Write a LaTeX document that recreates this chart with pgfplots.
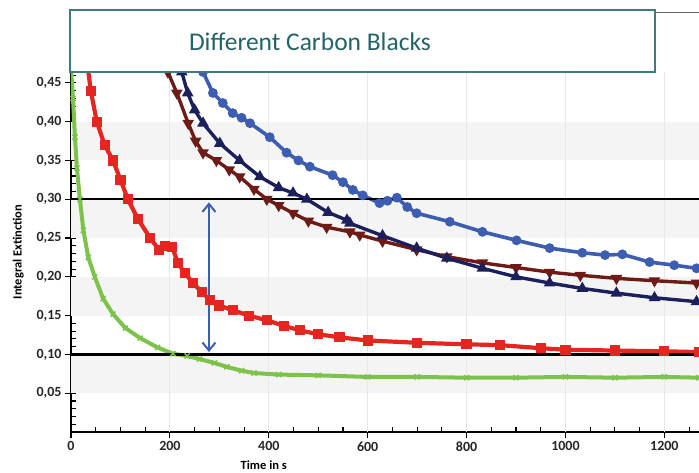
\documentclass[border=0pt]{standalone}
\usepackage{fontspec}
\setmainfont{Carlito}
\usepackage{pgfplots}
\pgfplotsset{compat=1.18}
\usetikzlibrary{arrows.meta}

\definecolor{cgreen}{RGB}{125,195,75}
\definecolor{cred}{RGB}{229,38,32}
\definecolor{cmaroon}{RGB}{110,26,22}
\definecolor{cnavy}{RGB}{27,31,92}
\definecolor{cblue}{RGB}{61,94,176}
\definecolor{bandgray}{RGB}{244,244,244}
\definecolor{titleteal}{RGB}{63,123,128}
\definecolor{titletext}{RGB}{35,100,106}

\begin{document}
\begin{tikzpicture}
\begin{axis}[
  scale only axis, width=628pt, height=360pt,
  xmin=0, xmax=1270, ymin=0, ymax=0.464,
  axis x line*=bottom, axis y line*=left,
  axis line style={black, line width=1.3pt},
  xtick={0,200,...,1200},
  ytick={0.05,0.10,0.15,0.20,0.25,0.30,0.35,0.40,0.45},
  minor xtick={50,100,...,1250},
  minor ytick={0.01,0.02,...,0.46},
  tick align=outside, major tick length=6pt, minor tick length=5pt,
  every tick/.append style={black, line width=1.1pt},
  minor x tick style={yshift=5pt},
  minor y tick style={xshift=5pt},
  tick label style={font=\bfseries\fontsize{14}{16}\selectfont, text=black!85},
  /pgf/number format/assume math mode=true,
  xticklabel style={/pgf/number format/.cd, fixed, precision=0, 1000 sep={}},
  yticklabel style={/pgf/number format/.cd, fixed, fixed zerofill, precision=2, use comma},
  xlabel={Time in s},
  ylabel={Integral Extinction},
  x label style={at={(axis description cs:0.307,-0.092)}, anchor=center, font=\bfseries\fontsize{12.5}{14}\selectfont},
  y label style={at={(axis description cs:-0.084,0.5)}, anchor=center, font=\bfseries\fontsize{12.5}{14}\selectfont},
  clip=true,
]
% background bands
\fill[bandgray] (0,0.05) rectangle (1270,0.10);
\fill[bandgray] (0,0.15) rectangle (1270,0.20);
\fill[bandgray] (0,0.25) rectangle (1270,0.30);
\fill[bandgray] (0,0.35) rectangle (1270,0.40);
\pgfplotsinvokeforeach{200,400,600,800,1000,1200}{
  \draw[black!9, line width=0.8pt] (#1,0) -- (#1,0.464);
}

% green
\addplot[cgreen, line width=4pt, mark=x, mark size=3.6pt, mark options={line width=1.5pt}] coordinates {
(0,0.47) (4,0.43) (8,0.38) (12,0.34) (18,0.30) (25,0.26) (35,0.225) (48,0.20)
(65,0.172) (85,0.152) (110,0.134) (140,0.121) (175,0.109) (206,0.101) (235,0.098)
(260,0.094) (290,0.089) (315,0.084) (345,0.079) (370,0.076) (420,0.074) (500,0.073)
(600,0.071) (700,0.071) (800,0.070) (900,0.070) (1000,0.071) (1100,0.070) (1200,0.071) (1270,0.070)
};
% red
\addplot[cred, line width=4.2pt, mark=square*, mark size=3pt] coordinates {
(34,0.47) (40,0.44) (52,0.40) (68,0.37) (85,0.35) (100,0.325) (115,0.30) (135,0.275)
(160,0.25) (178,0.235) (190,0.24) (205,0.238) (216,0.218) (230,0.205) (247,0.192)
(265,0.18) (281,0.17) (300,0.163) (327,0.157) (360,0.15) (396,0.144) (430,0.137)
(463,0.131) (500,0.126) (543,0.122) (600,0.118) (700,0.115) (800,0.113) (867,0.112)
(950,0.108) (1000,0.106) (1100,0.105) (1200,0.104) (1270,0.103)
};
% maroon
\addplot[cmaroon, line width=3.4pt, mark=triangle*, mark size=3.4pt, mark options={rotate=180}] coordinates {
(190,0.48) (196,0.464) (214,0.437) (237,0.398) (252,0.375) (267,0.36) (294,0.35)
(320,0.338) (341,0.329) (370,0.313) (396,0.30) (420,0.292) (449,0.282) (480,0.272)
(517,0.264) (564,0.258) (584,0.254) (630,0.246) (699,0.235) (760,0.226) (832,0.218)
(900,0.212) (968,0.206) (1030,0.202) (1103,0.198) (1180,0.195) (1265,0.192)
};
% navy
\addplot[cnavy, line width=3.4pt, mark=triangle*, mark size=3.4pt] coordinates {
(218,0.48) (224,0.464) (236,0.437) (250,0.415) (267,0.398) (301,0.372) (341,0.35)
(382,0.329) (420,0.315) (449,0.308) (477,0.30) (520,0.283) (558,0.273) (564,0.269)
(630,0.253) (699,0.237) (760,0.224) (832,0.211) (900,0.200) (968,0.192) (1034,0.185)
(1103,0.179) (1180,0.173) (1265,0.168)
};
% blue
\addplot[cblue, line width=3.6pt, mark=*, mark size=3pt] coordinates {
(262,0.48) (267,0.464) (287,0.437) (307,0.424) (327,0.411) (345,0.405) (362,0.398)
(402,0.38) (436,0.36) (460,0.35) (483,0.342) (529,0.331) (550,0.322) (570,0.312)
(590,0.305) (624,0.295) (640,0.298) (659,0.302) (680,0.29) (699,0.282) (766,0.271)
(832,0.258) (901,0.247) (968,0.237) (1034,0.231) (1080,0.228) (1115,0.229) (1170,0.219)
(1220,0.215) (1265,0.211)
};

% reference lines and arrow
\draw[black, line width=2.2pt] (0,0.30) -- (1270,0.30);
\draw[black, line width=2.2pt] (0,0.10) -- (1270,0.10);
\draw[cblue, line width=2pt, {Straight Barb[length=8pt,width=13pt]}-{Straight Barb[length=8pt,width=13pt]}] (279,0.296) -- (279,0.103);
\end{axis}

% title box
\draw[titleteal, line width=1.3pt, fill=white] (-1pt,360pt) rectangle (584pt,422pt);
\node[text=titletext, font=\fontsize{25.5}{30}\selectfont] at (239pt,390pt) {Different Carbon Blacks};
\draw[black!60, line width=1pt] (584pt,419pt) -- (628pt,419pt);

\pgfresetboundingbox
\path (-71pt,-40pt) rectangle (628pt,432pt);
\end{tikzpicture}
\end{document}
